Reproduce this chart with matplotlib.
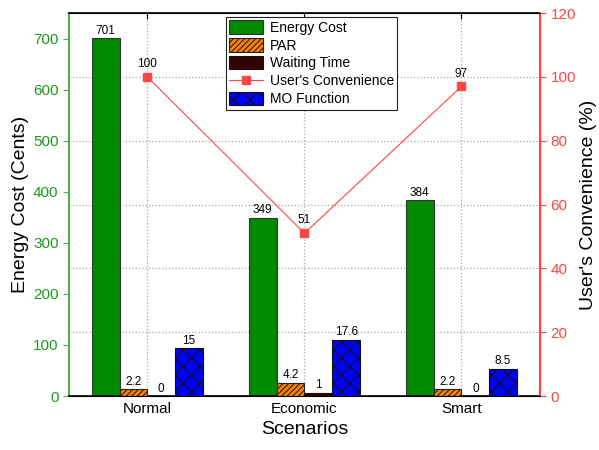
import numpy as np
import matplotlib.pyplot as plt
from matplotlib.patches import Patch

plt.rcParams['font.family'] = ['Liberation Sans', 'DejaVu Sans']
plt.rcParams['hatch.linewidth'] = 0.8

scenarios = ['Normal', 'Economic', 'Smart']
energy_cost = [701, 349, 384]
par = [2.2, 4.2, 2.2]
waiting_time = [0, 1, 0]
convenience = [100, 51, 97]
mo_function = [15, 17.6, 8.5]

green = '#008a00'
red = '#ff4545'

fig, ax = plt.subplots(figsize=(5.99, 4.5), dpi=100)
fig.subplots_adjust(left=0.115, right=0.9015, top=0.971, bottom=0.12)
ax2 = ax.twinx()

x = np.arange(len(scenarios))
w = 0.177

b1 = ax.bar(x - 1.5 * w, energy_cost, w, color=green, edgecolor='#333333', lw=0.8, zorder=2)
b2 = ax2.bar(x - 0.5 * w, par, w, color='#ff8000', edgecolor='#222222', hatch='//////', lw=0.8, zorder=2)
b3 = ax2.bar(x + 0.5 * w, waiting_time, w, color='#3a0000', edgecolor='#111111', hatch='.....', lw=0.8, zorder=2)
b4 = ax2.bar(x + 1.5 * w, mo_function, w, color='#0000ff', edgecolor='#111111', hatch='xx', lw=0.8, zorder=2)
line, = ax2.plot(x, convenience, color=red, lw=0.8, marker='s', markersize=6,
                 markeredgecolor=red, zorder=3)

ax.bar_label(b1, fmt='%g', padding=1, fontsize=8.5)
for b in (b2, b3, b4):
    ax2.bar_label(b, fmt='%g', padding=1, fontsize=8.5)
for xi, v in zip(x, convenience):
    ax2.annotate(f'{v}', (xi, v), xytext=(0, 5), textcoords='offset points',
                 ha='center', va='bottom', fontsize=8.5)

ax.set_xlim(-0.5, 2.5)
ax.set_ylim(0, 750)
ax2.set_ylim(0, 120)
ax.set_xticks(x)
ax.set_xticklabels(scenarios, fontsize=11)
ax.set_yticks(np.arange(0, 701, 100))
ax2.set_yticks(np.arange(0, 121, 20))

# dotted grid: verticals at scenarios, horizontals at right-axis ticks
for xi in x:
    ax.axvline(xi, color='#a8a8a8', ls=':', lw=0.9, zorder=0)
ax.hlines(ax2.get_yticks()[1:-1], 0, 1, transform=ax2.get_yaxis_transform(),
          colors='#a8a8a8', linestyles=':', lw=0.9, zorder=0)

ax.set_xlabel('Scenarios', fontsize=14)
ax.set_ylabel('Energy Cost (Cents)', fontsize=14, labelpad=3)
ax2.set_ylabel("User's Convenience (%)", fontsize=14, labelpad=3)

ax.tick_params(axis='y', colors='#1a9a1a', labelsize=11, direction='out', length=4)
ax.tick_params(axis='y', color='#4caf50')
ax.tick_params(axis='x', top=True, bottom=False, direction='in', length=4, pad=4)
ax2.tick_params(axis='y', colors=red, labelsize=11, direction='out', length=4)
ax.spines['left'].set_color('#4caf50')
ax.spines['left'].set_linewidth(1.5)
ax2.spines['left'].set_visible(False)
ax2.spines['right'].set_color(red)
ax2.spines['right'].set_linewidth(1.5)
ax.spines['top'].set_linewidth(1.2)
ax.spines['bottom'].set_linewidth(1.2)

handles = [
    Patch(facecolor=green, edgecolor='#333333', lw=0.8),
    Patch(facecolor='#ff8000', edgecolor='#222222', hatch='//////', lw=0.8),
    Patch(facecolor='#3a0000', edgecolor='#111111', hatch='.....', lw=0.8),
    line,
    Patch(facecolor='#0000ff', edgecolor='#111111', hatch='xx', lw=0.8),
]
labels = ['Energy Cost', 'PAR', 'Waiting Time', "User's Convenience", 'MO Function']
leg = ax2.legend(handles, labels, loc='upper left', bbox_to_anchor=(0.333, 0.99),
                 fontsize=10, fancybox=False, edgecolor='#222222', framealpha=1,
                 handlelength=2.4, handleheight=1.1, labelspacing=0.25,
                 borderpad=0.25, handletextpad=0.5, borderaxespad=0)
leg.get_frame().set_linewidth(0.8)
leg.set_zorder(5)

fig.savefig('out.png', dpi=100)
